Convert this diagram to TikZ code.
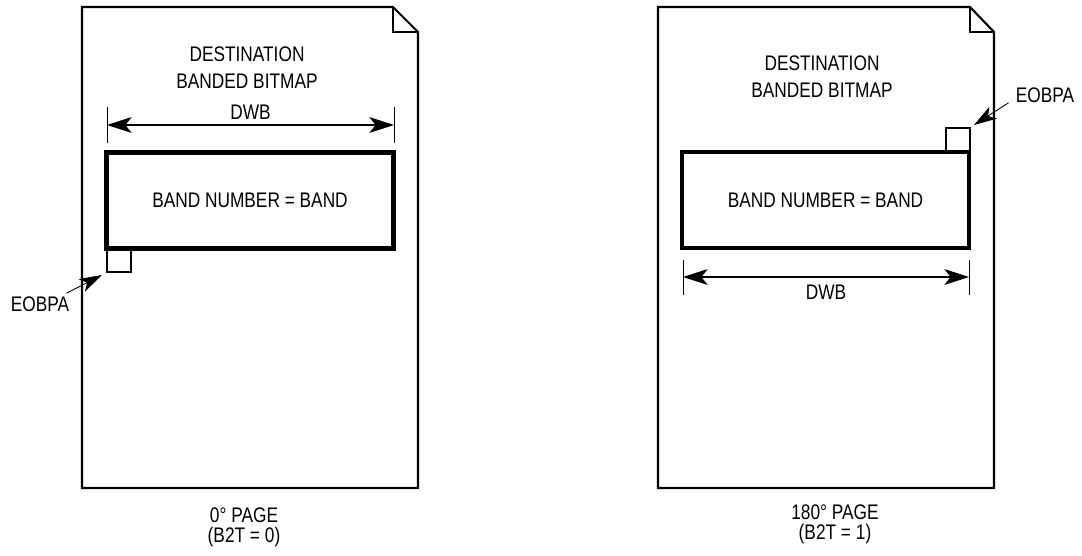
\documentclass[tikz,border=0pt]{standalone}
\usepackage{fontspec}
\setmainfont{Liberation Sans}[FakeStretch=0.82]
\usetikzlibrary{arrows.meta, positioning, calc}

\begin{document}
\begin{tikzpicture}[
    x=0.02cm, y=-0.02cm,
    page/.style={draw, line width=1.2pt, line join=miter},
    fold/.style={draw, line width=0.8pt},
    band/.style={draw, line width=2.6pt, minimum width=5.74cm, minimum height=1.92cm, inner sep=0pt, outer sep=0pt, font=\fontsize{12}{15}\selectfont},
    corner/.style={draw, line width=1pt, minimum size=0.48cm, inner sep=0pt, outer sep=0pt},
    dim/.style={{Stealth[length=14pt,width=9pt,inset=3.5pt]}-{Stealth[length=14pt,width=9pt,inset=3.5pt]}, line width=0.6pt},
    ext/.style={line width=0.4pt},
    ptr/.style={-{Stealth[length=13pt,width=8pt,inset=3.5pt]}, line width=0.5pt},
    lbl/.style={font=\fontsize{12}{15.3}\selectfont, align=center, inner sep=0pt},
    pagecap/.style={font=\fontsize{12}{11.3}\selectfont, align=center, inner sep=0pt}
]
    \useasboundingbox (0,0) rectangle (1082,555);

    % 0 degree page
    \draw[page] (82,7) -- (393,7) -- (418,32) -- (418,488) -- (82,488) -- cycle;
    \draw[fold] (393,7) -- (393,32) -- (418,32);
    \node[lbl] (titleL) at (247,67.5) {DESTINATION\\BANDED BITMAP};
    \node[band] (bandL) at (250,200.5) {BAND NUMBER = BAND};
    \node[corner] (cornerL) at (119,260) {};
    \node[lbl] (eobpaL) at (40,304) {EOBPA};
    \coordinate (dwbL1) at (107,125);
    \coordinate (dwbL2) at (394,125);
    \draw[ext] (107,107) -- (107,143);
    \draw[ext] (394,107) -- (394,143);
    \draw[dim] (dwbL1) -- node[lbl, above=3pt] (dwbL) {DWB} (dwbL2);
    \draw[ptr] ([shift={(-3,-3)}]eobpaL.north east) -- ([shift={(-5,3)}]cornerL.south west);
    \node[pagecap] (capL) at (244,527) {0° PAGE\\(B2T = 0)};

    % 180 degree page
    \draw[page] (658,7) -- (970,7) -- (994,32) -- (994,488) -- (658,488) -- cycle;
    \draw[fold] (970,7) -- (970,32) -- (994,32);
    \node[lbl] (titleR) at (822,76.5) {DESTINATION\\BANDED BITMAP};
    \node[band] (bandR) at (825.5,200) {BAND NUMBER = BAND};
    \node[corner] (cornerR) at (958,140) {};
    \node[lbl] (eobpaR) at (1045,95) {EOBPA};
    \coordinate (dwbR1) at (683,277);
    \coordinate (dwbR2) at (969,277);
    \draw[ext] (683,260) -- (683,295);
    \draw[ext] (969,260) -- (969,295);
    \draw[dim] (dwbR1) -- node[lbl, below=4.5pt] (dwbR) {DWB} (dwbR2);
    \draw[ptr] ([shift={(-7,0)}]eobpaR.south west) -- ([shift={(4,-3)}]cornerR.north east);
    \node[pagecap] (capR) at (835,524.5) {180° PAGE\\(B2T = 1)};
\end{tikzpicture}
\end{document}
